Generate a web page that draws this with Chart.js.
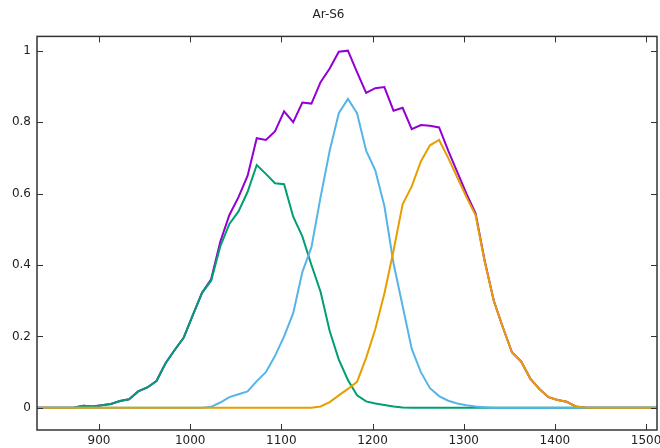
<!DOCTYPE html>
<html>
<head>
<meta charset="utf-8">
<script src="https://cdn.jsdelivr.net/npm/chart.js@4"></script>
<style>
  html, body { margin: 0; padding: 0; background: #fff; }
  #wrap { width: 660px; height: 448px; position: relative; }
</style>
</head>
<body>
<div id="wrap"><canvas id="c" width="660" height="448"></canvas></div>
<script>
// ---- data ----
const titleText = "Ar-S6";
const xValues = [823,833,843,853,863,873,883,893,903,913,923,933,943,953,963,973,983,993,1003,1013,1023,1033,1043,1053,1063,1073,1083,1093,1103,1113,1123,1133,1143,1153,1163,1173,1183,1193,1203,1213,1223,1233,1243,1253,1263,1273,1283,1293,1303,1313,1323,1333,1343,1353,1363,1373,1383,1393,1403,1413,1423,1433,1443,1453,1463,1473,1483,1493,1503,1513];
const totalSeries = [0,0,0,0,0,0.001,0.006,0.004,0.007,0.011,0.019,0.024,0.046,0.057,0.075,0.125,0.162,0.197,0.26,0.322,0.36,0.465,0.54,0.59,0.65,0.755,0.75,0.774,0.83,0.80,0.855,0.852,0.912,0.95,0.997,1.0,0.94,0.882,0.895,0.898,0.832,0.84,0.78,0.792,0.79,0.785,0.72,0.66,0.60,0.545,0.412,0.30,0.225,0.155,0.13,0.082,0.053,0.03,0.022,0.017,0.004,0.001,0,0,0,0,0,0,0,0];
const greenSeries = [0,0,0,0,0,0.001,0.006,0.004,0.007,0.011,0.019,0.024,0.046,0.057,0.075,0.125,0.162,0.197,0.26,0.322,0.356,0.452,0.515,0.55,0.605,0.68,0.655,0.629,0.626,0.535,0.48,0.40,0.325,0.215,0.135,0.078,0.035,0.018,0.012,0.008,0.004,0.001,0,0,0,0,0,0,0,0,0,0,0,0,0,0,0,0,0,0,0,0,0,0,0,0,0,0,0,0];
const blueSeries = [0,0,0,0,0,0,0,0,0,0,0,0,0,0,0,0,0,0,0,0,0.003,0.015,0.03,0.038,0.046,0.075,0.1,0.145,0.2,0.265,0.38,0.45,0.59,0.72,0.825,0.865,0.825,0.72,0.665,0.565,0.405,0.285,0.165,0.1,0.055,0.033,0.02,0.012,0.007,0.004,0.002,0,0,0,0,0,0,0,0,0,0,0,0,0,0,0,0,0,0,0];
const orangeSeries = [0,0,0,0,0,0,0,0,0,0,0,0,0,0,0,0,0,0,0,0,0,0,0,0,0,0,0,0,0,0,0,0,0.004,0.016,0.035,0.053,0.073,0.14,0.22,0.32,0.44,0.57,0.62,0.69,0.735,0.75,0.70,0.645,0.59,0.54,0.41,0.30,0.225,0.155,0.13,0.082,0.053,0.03,0.022,0.017,0.004,0.001,0,0,0,0,0,0,0,0];
const xTicks = [900,1000,1100,1200,1300,1400,1500];
const xTickLabels = ["900","1000","1100","1200","1300","1400","1500"];
const yTicks = [0,0.2,0.4,0.6,0.8,1];
const yTickLabels = ["0","0.2","0.4","0.6","0.8","1"];

function pts(ys) { return xValues.map((x, i) => ({x: x, y: ys[i]})); }

const FONT = "'DejaVu Sans', sans-serif";

// frame with inward ticks on all four sides (gnuplot style)
const framePlugin = {
  id: 'frame',
  afterDatasetsDraw(chart) {
    const {ctx, chartArea: a, scales} = chart;
    ctx.save();
    ctx.strokeStyle = '#333';
    ctx.lineWidth = 1;
    const L = 6;
    ctx.beginPath();
    xTicks.forEach(v => {
      const px = Math.round(scales.x.getPixelForValue(v)) + 0.5;
      ctx.moveTo(px, a.bottom); ctx.lineTo(px, a.bottom - L);
      ctx.moveTo(px, a.top); ctx.lineTo(px, a.top + L);
    });
    yTicks.forEach(v => {
      const py = Math.round(scales.y.getPixelForValue(v)) + 0.5;
      ctx.moveTo(a.left, py); ctx.lineTo(a.left + L, py);
      ctx.moveTo(a.right, py); ctx.lineTo(a.right - L, py);
    });
    ctx.stroke();
    ctx.lineWidth = 1.5;
    ctx.strokeRect(a.left, a.top, a.right - a.left, a.bottom - a.top);
    ctx.restore();
  }
};

const mk = (label, ys, color) => ({
  label: label, data: pts(ys), borderColor: color, backgroundColor: color,
  borderWidth: 2, pointRadius: 0, tension: 0, fill: false
});

new Chart(document.getElementById('c'), {
  type: 'line',
  data: {
    datasets: [
      mk('orange', orangeSeries, '#e69f00'),
      mk('blue', blueSeries, '#56b4e9'),
      mk('green', greenSeries, '#009e73'),
      mk('total', totalSeries, '#9400d3')
    ]
  },
  options: {
    responsive: false,
    animation: false,
    layout: { padding: { left: 0, right: 3, top: 0, bottom: 0 } },
    plugins: {
      legend: { display: false },
      tooltip: { enabled: false },
      title: {
        display: true, text: titleText, color: '#222',
        font: { family: FONT, size: 12, weight: 'normal' },
        padding: { top: 8, bottom: 14 }
      }
    },
    scales: {
      x: {
        type: 'linear', min: 832, max: 1512,
        afterBuildTicks: s => { s.ticks = xTicks.map(v => ({value: v})); },
        afterFit: s => { s.height = 18; s.paddingLeft = 0; s.paddingRight = 0; },
        grid: { display: false, drawTicks: false },
        border: { display: false },
        ticks: {
          color: '#222', font: { family: FONT, size: 12 }, padding: 4, maxRotation: 0,
          callback: (v, i) => xTickLabels[i]
        }
      },
      y: {
        type: 'linear', min: -0.062, max: 1.04,
        afterBuildTicks: s => { s.ticks = yTicks.map(v => ({value: v})); },
        afterFit: s => { s.width = 37; s.paddingTop = 0; s.paddingBottom = 0; },
        grid: { display: false, drawTicks: false },
        border: { display: false },
        ticks: {
          color: '#222', font: { family: FONT, size: 12 }, padding: 6,
          callback: (v, i) => yTickLabels[i]
        }
      }
    }
  },
  plugins: [framePlugin]
});
</script>
</body>
</html>
